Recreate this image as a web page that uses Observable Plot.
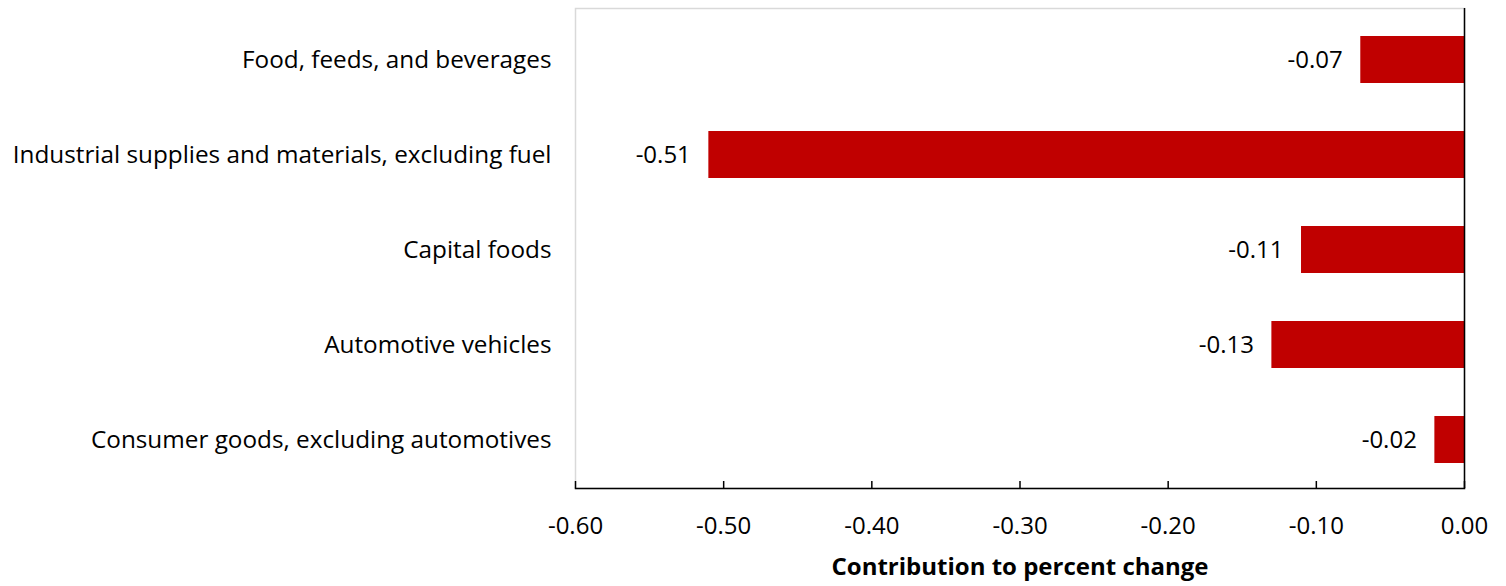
<!DOCTYPE html>
<html>
<head>
<meta charset="utf-8">
<script src="https://cdn.jsdelivr.net/npm/d3@7"></script>
<script src="https://cdn.jsdelivr.net/npm/@observablehq/plot@0.6"></script>
<style>
  html, body { margin: 0; padding: 0; background: #fff; }
  #chart svg { display: block; }
</style>
</head>
<body>
<div id="chart"></div>
<script>
const categories = [
  "Food, feeds, and beverages",
  "Industrial supplies and materials, excluding fuel",
  "Capital foods",
  "Automotive vehicles",
  "Consumer goods, excluding automotives"
];
const values = [-0.07, -0.51, -0.11, -0.13, -0.02];
const tickValues = [-0.6, -0.5, -0.4, -0.3, -0.2, -0.1, 0];
const axisTitle = "Contribution to percent change";

const data = categories.map((c, i) => ({category: c, value: values[i]}));
const fmt = d => d3.format(".2f")(d).replace("\u2212", "-");

const chart = Plot.plot({
  width: 1506,
  height: 586,
  marginTop: 8,
  marginBottom: 98,
  marginLeft: 575,
  marginRight: 42,
  style: {fontFamily: "'Open Sans', sans-serif", fontSize: "24px", color: "#000", background: "#fff"},
  x: {domain: [-0.6, 0]},
  y: {domain: categories, range: [10, 488], paddingInner: 0.51, paddingOuter: 0.255},
  marks: [
    Plot.frame({stroke: "#d9d9d9", strokeWidth: 1.5}),
    Plot.barX(data, {x: "value", y: "category", fill: "#c00000"}),
    Plot.text(data, {x: "value", y: "category", text: d => fmt(d.value), textAnchor: "end", dx: -18, fill: "#000", fontSize: 24}),
    Plot.ruleX(tickValues, {x: d => d, insetTop: 473, stroke: "#000", strokeWidth: 1.5}),
    Plot.ruleX([0], {stroke: "#000", strokeWidth: 1.5}),
    Plot.frame({anchor: "bottom", stroke: "#000", strokeWidth: 1.5}),
    Plot.axisX({
      ticks: tickValues, tickSize: 0, tickPadding: 28, tickFormat: fmt,
      fontSize: 24, label: null
    }),
    Plot.axisY({tickSize: 0, tickPadding: 24, fontSize: 24.3, label: null}),
    Plot.text([axisTitle], {
      frameAnchor: "bottom", dy: 86, text: d => d,
      fontWeight: "bold", fontSize: 24, fill: "#000"
    })
  ]
});
document.getElementById("chart").appendChild(chart);
</script>
</body>
</html>
